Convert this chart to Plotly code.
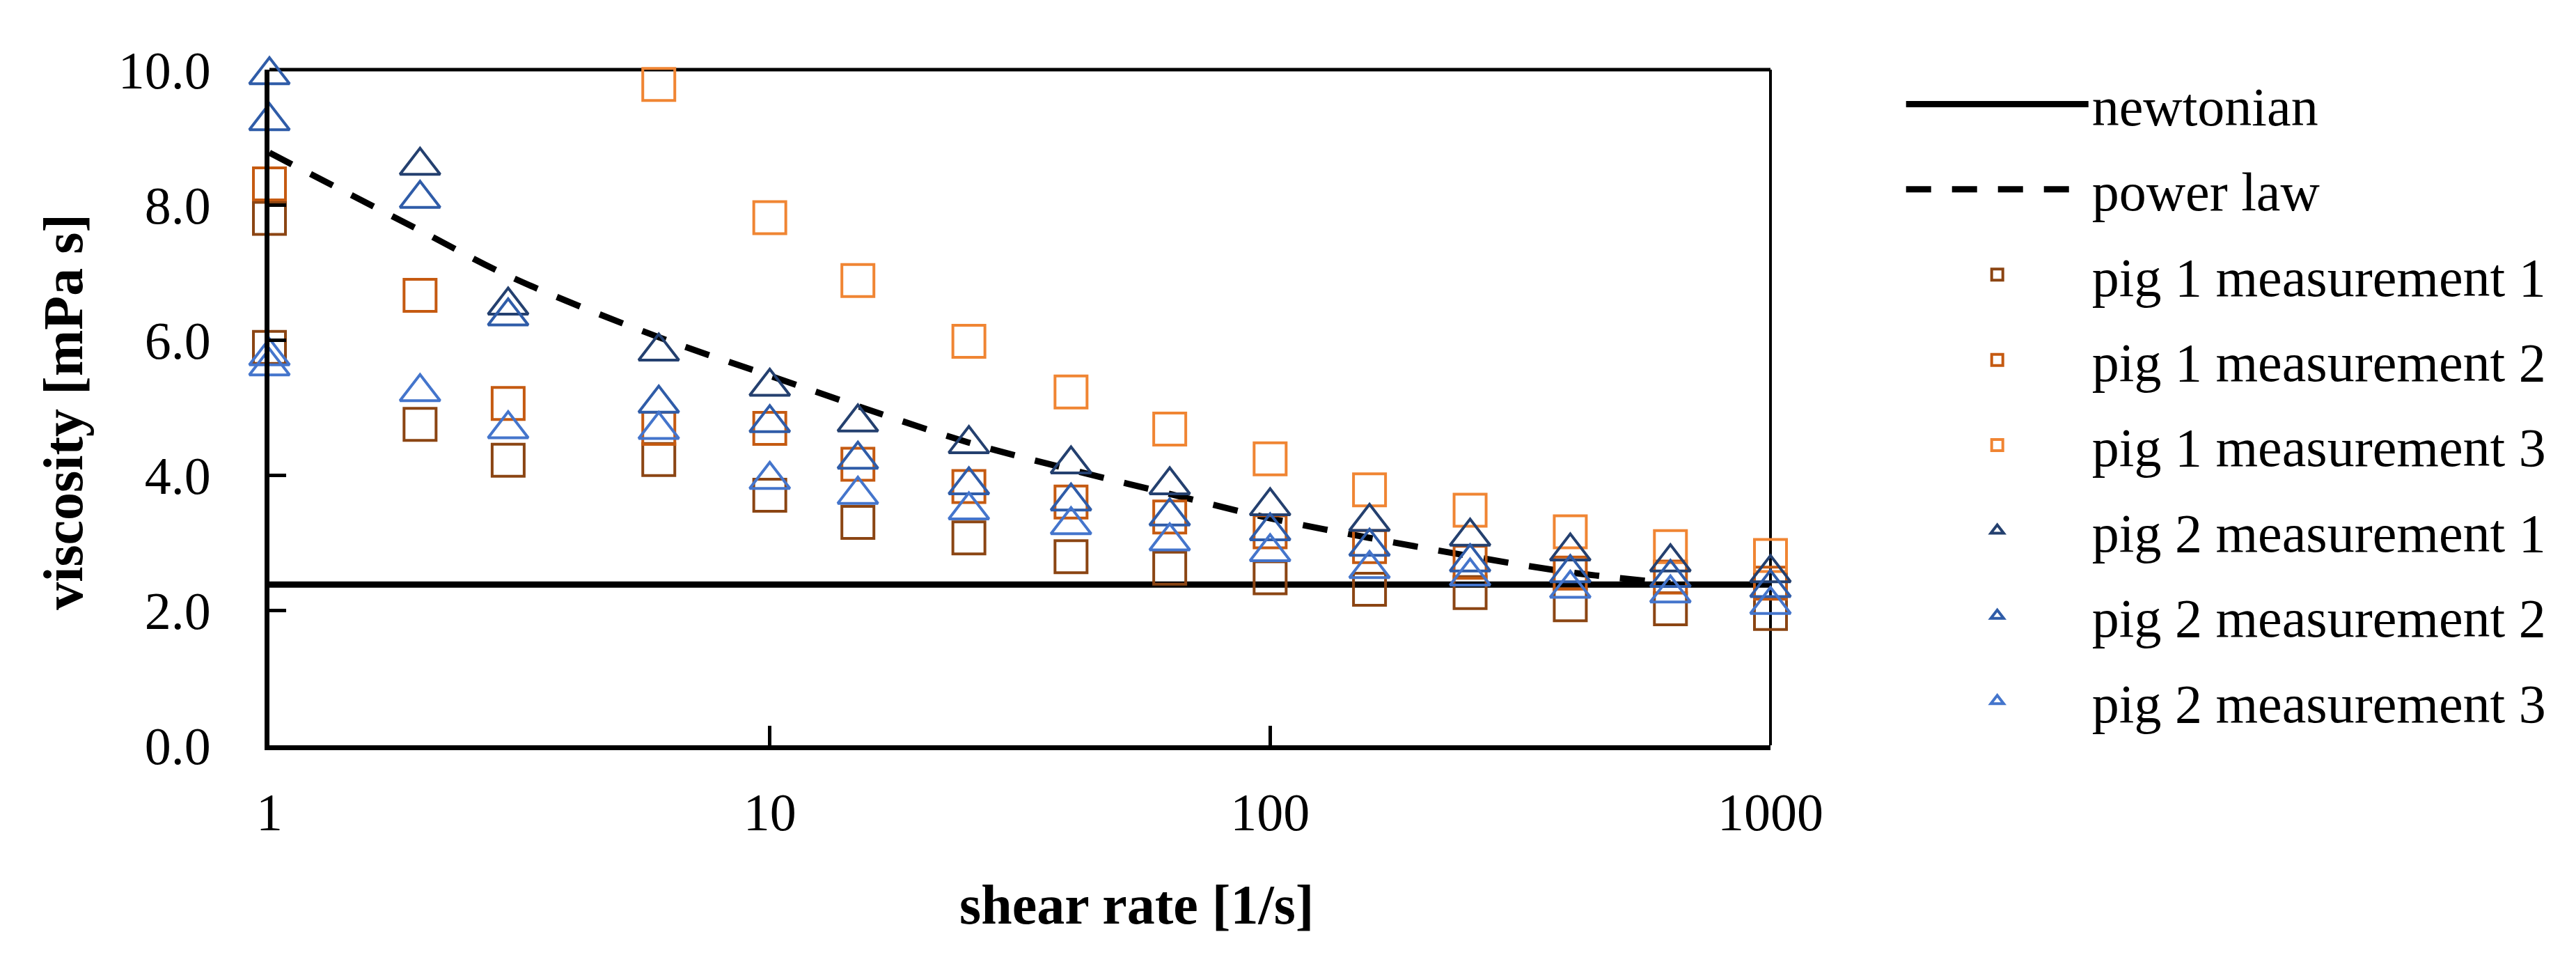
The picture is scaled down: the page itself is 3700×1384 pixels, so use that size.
import plotly.graph_objects as go

# ---------------- data ----------------
newtonian_x = [1, 1000]
newtonian_y = [2.38, 2.38]

powerlaw_x = [1, 2, 3, 6, 10, 15, 25, 40, 63, 100, 158, 251, 398, 631]
powerlaw_y = [8.77, 7.62, 6.95, 6.04, 5.47, 5.02, 4.48, 4.08, 3.72, 3.36, 3.07, 2.80, 2.56, 2.40]

p1m1_x = [1, 1, 2, 3, 6, 10, 15, 25, 40, 63, 100, 158, 251, 398, 631, 1000]
p1m1_y = [7.80, 5.89, 4.75, 4.22, 4.23, 3.70, 3.30, 3.07, 2.79, 2.62, 2.48, 2.31, 2.26, 2.08, 2.02, 1.95]

p1m2_x = [1, 2, 3, 6, 10, 15, 25, 40, 63, 100, 158, 251, 398, 631, 1000]
p1m2_y = [8.31, 6.66, 5.06, 4.69, 4.69, 4.16, 3.83, 3.60, 3.38, 3.16, 2.94, 2.71, 2.55, 2.49, 2.40]

p1m3_x = [6, 10, 15, 25, 40, 63, 100, 158, 251, 398, 631, 1000]
p1m3_y = [9.78, 7.81, 6.88, 5.98, 5.23, 4.68, 4.24, 3.78, 3.48, 3.16, 2.94, 2.81]

p2m1_x = [2, 3, 6, 10, 15, 25, 40, 63, 100, 158, 251, 398, 631, 1000]
p2m1_y = [8.58, 6.51, 5.83, 5.31, 4.78, 4.46, 4.16, 3.85, 3.54, 3.31, 3.09, 2.87, 2.71, 2.55]

p2m2_x = [1, 1, 2, 3, 6, 10, 15, 25, 40, 63, 100, 158, 251, 398, 631, 1000]
p2m2_y = [9.92, 9.24, 8.09, 6.35, 5.06, 4.77, 4.23, 3.85, 3.61, 3.39, 3.17, 2.94, 2.71, 2.55, 2.48, 2.33]

p2m3_x = [1, 1, 2, 3, 6, 10, 15, 25, 40, 63, 100, 158, 251, 398, 631, 1000]
p2m3_y = [5.76, 5.61, 5.23, 4.68, 4.67, 3.93, 3.71, 3.48, 3.26, 3.02, 2.86, 2.61, 2.50, 2.32, 2.25, 2.08]

x_tick_vals = [1, 10, 100, 1000]
x_tick_text = ["1", "10", "100", "1000"]
y_tick_vals = [0, 2, 4, 6, 8, 10]
y_tick_text = ["0.0", "2.0", "4.0", "6.0", "8.0", "10.0"]

series_names = ["pig 1 measurement 1", "pig 1 measurement 2", "pig 1 measurement 3",
                "pig 2 measurement 1", "pig 2 measurement 2", "pig 2 measurement 3"]
series_colors = ["#8B4513", "#C55A11", "#F08533", "#24406F", "#2F5CA8", "#4475CC"]
series_symbols = ["square-open"] * 3 + ["triangle-up-open"] * 3
series_x = [p1m1_x, p1m2_x, p1m3_x, p2m1_x, p2m2_x, p2m3_x]
series_y = [p1m1_y, p1m2_y, p1m3_y, p2m1_y, p2m2_y, p2m3_y]

SERIF = "Liberation Serif, Times New Roman, serif"

fig = go.Figure()

fig.add_trace(go.Scatter(x=newtonian_x, y=newtonian_y, mode="lines", name="newtonian",
                         line=dict(color="black", width=9), legendgroup="a"))
fig.add_trace(go.Scatter(x=powerlaw_x, y=powerlaw_y, mode="lines", name="power law",
                         line=dict(color="black", width=9, dash="36px,30px", shape="spline"),
                         legendgroup="b"))

for i, (nm, col, sym, xs, ys) in enumerate(zip(series_names, series_colors, series_symbols,
                                               series_x, series_y)):
    size = 46 if sym.startswith("square") else 50
    fig.add_trace(go.Scatter(x=xs, y=ys, mode="markers", name=nm, cliponaxis=False,
                             legendgroup="s%d" % i,
                             marker=dict(symbol=sym, size=size, color=col,
                                         line=dict(color=col, width=4))))

fig.update_layout(
    width=3700, height=1384,
    margin=dict(l=379, r=1165, t=92, b=322),
    paper_bgcolor="white", plot_bgcolor="white",
    showlegend=True,
    legend=dict(x=1.088, y=1.008, xanchor="left", yanchor="top",
                font=dict(family=SERIF, size=78, color="black"),
                itemwidth=262, tracegroupgap=18, maxheight=1290,
                bgcolor="rgba(0,0,0,0)"),
    xaxis=dict(type="log", range=[0, 3], tickvals=x_tick_vals, ticktext=x_tick_text,
               ticks="inside", ticklen=28, tickwidth=5, tickcolor="black",
               showline=True, linewidth=7, linecolor="black",
               showgrid=False, zeroline=False, ticklabelstandoff=24,
               tickfont=dict(family=SERIF, size=76, color="black")),
    yaxis=dict(range=[0, 10], tickvals=y_tick_vals, ticktext=y_tick_text,
               ticks="inside", ticklen=24, tickwidth=5, tickcolor="black",
               showline=True, linewidth=7, linecolor="black",
               showgrid=False, zeroline=False, ticklabelstandoff=62,
               tickfont=dict(family=SERIF, size=76, color="black")),
    shapes=[
        dict(type="line", xref="x domain", yref="y domain", x0=0, x1=1, y0=1, y1=1,
             line=dict(color="black", width=5), layer="below"),
        dict(type="line", xref="x domain", yref="y domain", x0=1, x1=1, y0=0, y1=1,
             line=dict(color="black", width=4), layer="below"),
    ],
    annotations=[
        dict(text="<b>shear rate [1/s]</b>", xref="paper", yref="paper",
             x=0.578, y=-0.236, xanchor="center", yanchor="middle", showarrow=False,
             font=dict(family=SERIF, size=80, color="black")),
        dict(text="<b>viscosity [mPa s]</b>", xref="paper", yref="paper",
             x=-0.1373, y=0.494, xanchor="center", yanchor="middle", showarrow=False,
             textangle=-90, font=dict(family=SERIF, size=80, color="black")),
    ],
)

fig.write_html("out.html")
